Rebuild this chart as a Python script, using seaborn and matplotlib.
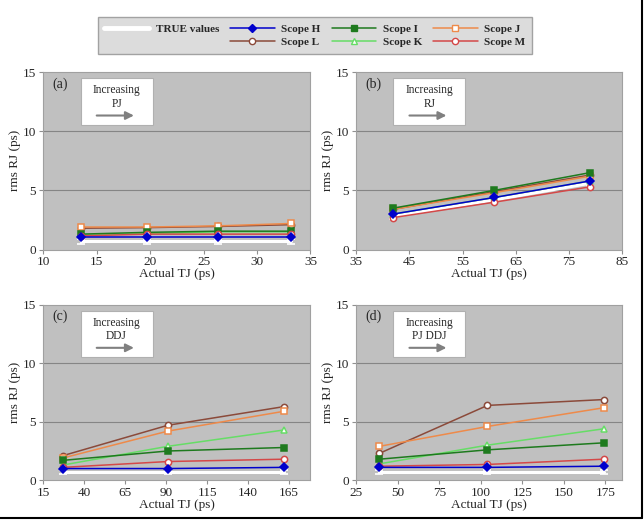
import matplotlib
matplotlib.use("Agg")
import matplotlib.pyplot as plt
import pandas as pd
import seaborn as sns
from matplotlib.lines import Line2D

# x positions (actual TJ, ps) per panel
x_a = [13.5, 19.7, 26.4, 33.2]
x_b = [42, 61, 79]
x_c = [27, 91, 162]
x_d = [39, 104, 174]

# rms RJ values per scope, per panel
true_a = [0.7, 0.7, 0.7, 0.7]
h_a = [1.1, 1.1, 1.1, 1.1]
i_a = [1.3, 1.45, 1.55, 1.55]
j_a = [1.9, 1.9, 2.0, 2.2]
l_a = [1.8, 1.85, 1.95, 2.1]
k_a = [1.2, 1.35, 1.5, 1.5]
m_a = [1.15, 1.3, 1.3, 1.3]

true_b = [2.8, 4.2, 5.6]
h_b = [3.0, 4.4, 5.8]
i_b = [3.5, 5.0, 6.5]
j_b = [3.4, 4.8, 6.2]
l_b = [3.4, 4.9, 6.3]
k_b = [3.0, 4.4, 5.8]
m_b = [2.7, 4.0, 5.3]

true_c = [0.7, 0.7, 0.7]
h_c = [1.0, 1.0, 1.1]
i_c = [1.7, 2.5, 2.8]
j_c = [1.9, 4.2, 5.9]
l_c = [2.1, 4.7, 6.3]
k_c = [1.3, 2.9, 4.3]
m_c = [1.1, 1.6, 1.8]

true_d = [0.7, 0.7, 0.7]
h_d = [1.1, 1.1, 1.2]
i_d = [1.8, 2.6, 3.2]
j_d = [2.9, 4.6, 6.2]
l_d = [2.3, 6.4, 6.9]
k_d = [1.4, 3.0, 4.4]
m_d = [1.2, 1.35, 1.8]

panel_labels = ["(a)", "(b)", "(c)", "(d)"]
box_texts = ["Increasing\nPJ", "Increasing\nRJ", "Increasing\nDDJ", "Increasing\nPJ DDJ"]
xlims = [(10, 35), (35, 85), (15, 178), (25, 185)]
xticks = [[10, 15, 20, 25, 30, 35], [35, 45, 55, 65, 75, 85],
          [15, 40, 65, 90, 115, 140, 165], [25, 50, 75, 100, 125, 150, 175]]

# scope styles: name -> (color, marker, facecolor, size)
styles = {
    "Scope L": ("#8b4a3a", "o", "white", 4.5),
    "Scope J": ("#ee8a4a", "s", "white", 4.2),
    "Scope K": ("#66dd66", "^", "white", 4.5),
    "Scope I": ("#1e7a1e", "s", "#1e7a1e", 4.2),
    "Scope M": ("#d44848", "o", "white", 4.5),
    "Scope H": ("#0000cc", "D", "#0000cc", 3.8),
}

panels = [
    (x_a, true_a, {"Scope H": h_a, "Scope I": i_a, "Scope J": j_a, "Scope L": l_a, "Scope K": k_a, "Scope M": m_a}),
    (x_b, true_b, {"Scope H": h_b, "Scope I": i_b, "Scope J": j_b, "Scope L": l_b, "Scope K": k_b, "Scope M": m_b}),
    (x_c, true_c, {"Scope H": h_c, "Scope I": i_c, "Scope J": j_c, "Scope L": l_c, "Scope K": k_c, "Scope M": m_c}),
    (x_d, true_d, {"Scope H": h_d, "Scope I": i_d, "Scope J": j_d, "Scope L": l_d, "Scope K": k_d, "Scope M": m_d}),
]

sns.set_style("white")
plt.rcParams["font.family"] = ["Liberation Serif", "DejaVu Serif"]

fig = plt.figure(figsize=(6.44, 5.22), dpi=100)
positions = [
    [0.067, 0.522, 0.415, 0.340],
    [0.553, 0.522, 0.413, 0.340],
    [0.067, 0.080, 0.415, 0.336],
    [0.553, 0.080, 0.413, 0.336],
]

for idx, (xs, tv, series) in enumerate(panels):
    ax = fig.add_axes(positions[idx])
    ax.set_facecolor("#c0c0c0")
    ax.axhline(5, color="#858585", lw=0.8, zorder=0)
    ax.axhline(10, color="#858585", lw=0.8, zorder=0)

    # TRUE values
    ax.errorbar(xs, tv, yerr=0.2, color="white", lw=2.2, capsize=3,
                capthick=1.2, elinewidth=1.2, zorder=2)

    for name in ["Scope L", "Scope J", "Scope K", "Scope I", "Scope M", "Scope H"]:
        col, mk, fc, ms = styles[name]
        df = pd.DataFrame({"x": xs, "y": series[name]})
        sns.lineplot(data=df, x="x", y="y", ax=ax, color=col, marker=mk,
                     markersize=ms, markerfacecolor=fc, markeredgecolor=col,
                     markeredgewidth=1.1, lw=1.1, zorder=3)

    ax.set_xlim(*xlims[idx])
    ax.set_ylim(0, 15)
    ax.set_xticks(xticks[idx])
    ax.set_yticks([0, 5, 10, 15])
    ax.tick_params(labelsize=9.5, length=3, color="#909090", direction="out",
                   bottom=True, left=True, pad=2)
    for s in ax.spines.values():
        s.set_color("#a0a0a0")
        s.set_linewidth(0.8)
    ax.set_xlabel("Actual TJ (ps)", fontsize=9.5, labelpad=0)
    ax.set_ylabel("rms RJ (ps)", fontsize=9.5, labelpad=1)

    ax.text(0.035, 0.933, panel_labels[idx], transform=ax.transAxes, fontsize=10,
            va="center", ha="left")
    box = plt.Rectangle((0.14, 0.70), 0.27, 0.265, transform=ax.transAxes,
                        facecolor="white", edgecolor="#b0b0b0", lw=0.8, zorder=4)
    ax.add_patch(box)
    ax.text(0.275, 0.86, box_texts[idx], transform=ax.transAxes, fontsize=8.3,
            ha="center", va="center", linespacing=1.15, zorder=5)
    ax.annotate("", xy=(0.35, 0.755), xytext=(0.19, 0.755), xycoords="axes fraction",
                arrowprops=dict(arrowstyle="-|>", color="#808080", lw=1.5,
                                mutation_scale=12), zorder=5)

# legend
handles = [Line2D([], [], color="white", lw=3.5, label="TRUE values"),
           Line2D([], [], color="none", label=" ")]
for name in ["Scope H", "Scope L", "Scope I", "Scope K", "Scope J", "Scope M"]:
    col, mk, fc, ms = styles[name]
    handles.append(Line2D([], [], color=col, marker=mk, markersize=ms,
                          markerfacecolor=fc, markeredgecolor=col, lw=1.1, label=name))
leg = fig.legend(handles=handles, ncol=4, loc="center", bbox_to_anchor=(0.489, 0.932),
                 frameon=True, fancybox=False, prop={"weight": "bold", "size": 8},
                 handlelength=4.0, columnspacing=1.0, labelspacing=0.3,
                 handletextpad=0.6, borderpad=0.6)
leg.get_frame().set_facecolor("#d4d4d4")
leg.get_frame().set_edgecolor("#909090")

# image border at right and bottom
fig.add_artist(Line2D([0, 0.997], [0.008, 0.008], color="black", lw=1.5))
fig.add_artist(Line2D([0.997, 0.997], [0.008, 1.0], color="black", lw=1.5))

fig.savefig("out.png", dpi=100)
